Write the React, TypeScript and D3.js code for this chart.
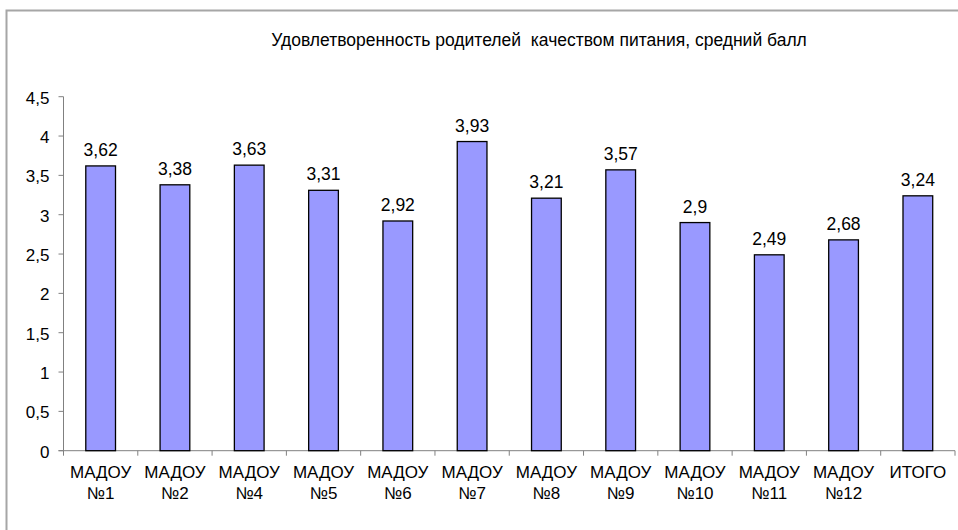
import React from "react";
import * as d3 from "d3";

const categories: string[][] = [
  ["МАДОУ", "№1"],
  ["МАДОУ", "№2"],
  ["МАДОУ", "№4"],
  ["МАДОУ", "№5"],
  ["МАДОУ", "№6"],
  ["МАДОУ", "№7"],
  ["МАДОУ", "№8"],
  ["МАДОУ", "№9"],
  ["МАДОУ", "№10"],
  ["МАДОУ", "№11"],
  ["МАДОУ", "№12"],
  ["ИТОГО"],
];
const values: number[] = [3.62, 3.38, 3.63, 3.31, 2.92, 3.93, 3.21, 3.57, 2.9, 2.49, 2.68, 3.24];
const yTicks: number[] = [0, 0.5, 1, 1.5, 2, 2.5, 3, 3.5, 4, 4.5];
const title = "Удовлетворенность родителей  качеством питания, средний балл";

const W = 958;
const H = 530;
const FONT = "'Liberation Sans', Arial, sans-serif";

export default function App() {
  const x0 = 63.5;
  const x1 = 955;
  const yTop = 96.7;
  const yBot = 450.7;
  const x = d3
    .scaleBand<number>()
    .domain(d3.range(categories.length))
    .range([x0, x1])
    .paddingInner(0.6)
    .paddingOuter(0.3);
  const y = d3.scaleLinear().domain([0, 4.5]).range([yBot, yTop]);
  const step = x.step();
  const fmt = (v: number) => String(v).replace(".", ",");

  return (
    <svg
      width={W}
      height={H}
      style={{ position: "absolute", left: 0, top: 0, background: "#fff" }}
      fontFamily={FONT}
    >
      <rect x={0} y={0} width={W} height={H} fill="#fff" />
      <path d={`M6.5,${H} V10.5 H${W}`} fill="none" stroke="#a6a6a6" strokeWidth={2} />
      <text x={539} y={46} textAnchor="middle" fontSize={17.5} fill="#000" style={{ whiteSpace: "pre" }}>
        {title}
      </text>
      {/* y axis */}
      <line x1={x0} x2={x0} y1={yTop} y2={yBot} stroke="#808080" strokeWidth={1} />
      {yTicks.map((t) => (
        <g key={t}>
          <line x1={x0 - 5} x2={x0} y1={y(t)} y2={y(t)} stroke="#808080" />
          <text x={x0 - 14} y={y(t) + 7} textAnchor="end" fontSize={17} fill="#000">
            {fmt(t)}
          </text>
        </g>
      ))}
      {/* x axis */}
      <line x1={x0 - 5} x2={x1} y1={yBot} y2={yBot} stroke="#808080" />
      {d3.range(categories.length + 1).map((i) => (
        <line key={i} x1={x0 + i * step} x2={x0 + i * step} y1={yBot} y2={yBot + 5} stroke="#808080" />
      ))}
      {values.map((v, i) => (
        <g key={i}>
          <rect
            x={x(i)!}
            y={y(v)}
            width={x.bandwidth()}
            height={yBot - y(v)}
            fill="#9999ff"
            stroke="#000"
            strokeWidth={1.3}
          />
          <text x={x(i)! + x.bandwidth() / 2} y={y(v) - 10} textAnchor="middle" fontSize={17.5} fill="#000">
            {fmt(v)}
          </text>
        </g>
      ))}
      {categories.map((lines, i) => (
        <text key={i} x={x0 + (i + 0.5) * step} y={477.5} textAnchor="middle" fontSize={17} fill="#000">
          {lines.map((l, j) => (
            <tspan key={j} x={x0 + (i + 0.5) * step} dy={j === 0 ? 0 : 21}>
              {l}
            </tspan>
          ))}
        </text>
      ))}
    </svg>
  );
}
